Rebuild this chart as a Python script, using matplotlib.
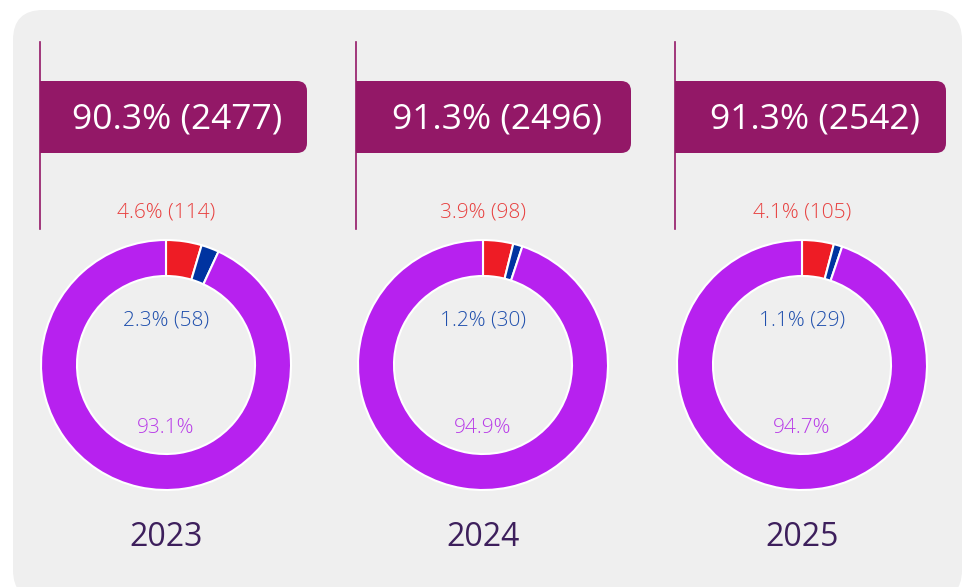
import matplotlib
matplotlib.use("Agg")
import matplotlib.pyplot as plt
from matplotlib.patches import FancyBboxPatch, Rectangle

years = ["2023", "2024", "2025"]
banner_pct = [90.3, 91.3, 91.3]
banner_n = [2477, 2496, 2542]
red_pct = [4.6, 3.9, 4.1]
red_n = [114, 98, 105]
blue_pct = [2.3, 1.2, 1.1]
blue_n = [58, 30, 29]
purple_pct = [93.1, 94.9, 94.7]

C_BANNER = "#931867"
C_RED = "#ee1c25"
C_BLUE = "#0033a0"
C_PURPLE = "#b721ef"
T_RED = "#e8403f"
T_BLUE = "#1f4fad"
T_PURPLE = "#b83be8"
T_YEAR = "#3d1f5c"

W, H = 965, 587
fig = plt.figure(figsize=(W / 100, H / 100), dpi=100)
fig.patch.set_facecolor("white")
ax = fig.add_axes([0, 0, 1, 1])

def Y(y):
    return H - y

FONT = ["Open Sans", "DejaVu Sans"]

# panel
ax.add_patch(FancyBboxPatch((13, Y(600)), 949, 590,
                            boxstyle="round,pad=0,rounding_size=30",
                            fc="#efefef", ec="none", zorder=0))

centers = [166, 483, 802]
line_x = [40, 356, 675]
banner_r = [307, 631, 946]

for i in range(3):
    cx = centers[i]
    cy = Y(365)
    ax.pie([red_pct[i], blue_pct[i], purple_pct[i]],
           colors=[C_RED, C_BLUE, C_PURPLE], startangle=90, counterclock=False,
           center=(cx, cy), radius=125,
           wedgeprops=dict(width=36, edgecolor="white", linewidth=1.5))
    # vertical line
    ax.plot([line_x[i], line_x[i]], [Y(42), Y(229)], color=C_BANNER, lw=1.2, zorder=3)
    # banner
    bx0, bx1 = line_x[i], banner_r[i]
    ax.add_patch(FancyBboxPatch((bx0, Y(153)), bx1 - bx0, 72,
                                boxstyle="round,pad=0,rounding_size=10",
                                fc=C_BANNER, ec="none", zorder=2))
    ax.add_patch(Rectangle((bx0, Y(153)), 30, 72, fc=C_BANNER, ec="none", zorder=2))
    ax.text((bx0 + bx1) / 2 + 4, Y(119), f"{banner_pct[i]}% ({banner_n[i]})",
            color="white", fontsize=25.5, ha="center", va="center", family=FONT, zorder=4)
    ax.text(cx, Y(213), f"{red_pct[i]}% ({red_n[i]})", color=T_RED, fontsize=15,
            ha="center", va="center", family=FONT, fontweight="light", zorder=4)
    ax.text(cx, Y(320), f"{blue_pct[i]}% ({blue_n[i]})", color=T_BLUE, fontsize=15,
            ha="center", va="center", family=FONT, fontweight="light", zorder=4)
    ax.text(cx, Y(428), f"{purple_pct[i]}%", color=T_PURPLE, fontsize=15,
            ha="center", va="center", family=FONT, fontweight="light", zorder=4)
    ax.text(cx, Y(538), years[i], color=T_YEAR, fontsize=23,
            ha="center", va="center", family=FONT, zorder=4)

ax.set_xlim(0, W)
ax.set_ylim(0, H)
ax.set_aspect("auto")
ax.axis("off")
fig.savefig("out.png", dpi=100, facecolor="white")
